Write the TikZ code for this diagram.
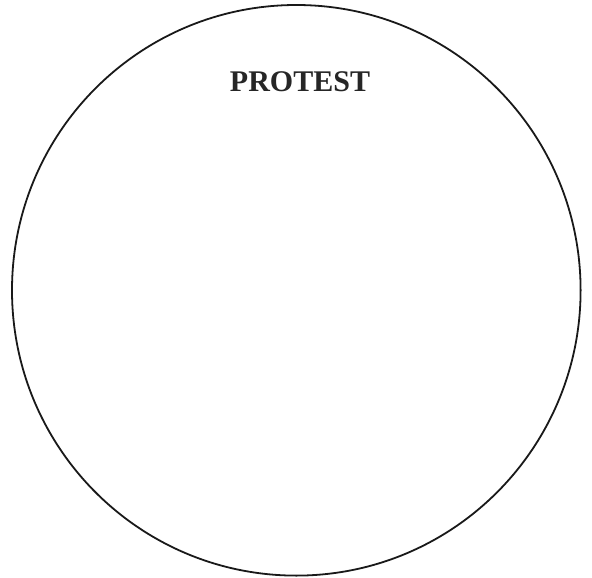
\documentclass[tikz,border=0pt]{standalone}
\usepackage{fontspec}
\setmainfont{Liberation Serif}
\begin{document}
\begin{tikzpicture}[x=1pt,y=-1pt,
  outline/.style={draw=black!90, line width=1.8pt},
  titletext/.style={font=\bfseries\fontsize{30}{33}\selectfont, text=black!85, inner sep=0pt, anchor=base}]
\useasboundingbox (0,0) rectangle (592,578);
\draw[outline] (296.3,290.3) ellipse [x radius=284.3, y radius=285.3];
\node[titletext] (title) at (300,92) {PROTEST};
\end{tikzpicture}
\end{document}
